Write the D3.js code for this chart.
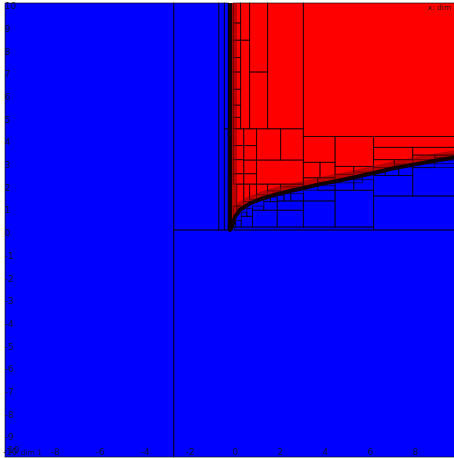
<!DOCTYPE html>
<html>
<head>
<meta charset="utf-8">
<script src="https://cdn.jsdelivr.net/npm/d3@7"></script>
<style>
  body { margin: 0; background: #fff; }
  text { font-family: "DejaVu Sans", sans-serif; }
</style>
</head>
<body>
<div id="chart"><svg width="454" height="458"></svg></div>
<script>
// Tick labels
const xTicks = [-10, -8, -6, -4, -2, 0, 2, 4, 6, 8];
const yTicks = [10, 9, 8, 7, 6, 5, 4, 3, 2, 1, 0, -1, -2, -3, -4, -5, -6, -7, -8, -9, -10];

// Boundary between the red and blue regions
const boundaryX = [0, 0.08, 0.22, 0.44, 0.89, 1.48, 2.08, 2.67, 3.23, 4.0, 4.64, 5.48, 6.34, 7.26, 8.08, 9.04, 10];
const boundaryY = [0, 0.12, 0.58, 0.88, 1.17, 1.4, 1.58, 1.72, 1.84, 2.02, 2.14, 2.31, 2.5, 2.72, 2.87, 3.04, 3.2];

// Subdivision cells [x0, x1, y0, y1]
const blueCells = [
  [-10, -2.5, -10, 10], [-2.5, 10, -10, 0],
  [-2.5, -0.5, 0, 10], [-0.5, -0.25, 0, 10],
  [-0.25, -0.08, 0, 4.46], [-0.25, -0.08, 4.46, 10],
  [-0.08, 0, 2.02, 4.46], [-0.08, 0, 0, 2.02],
  [6.38, 10, 0, 1.5], [6.38, 8.12, 1.5, 2.4], [8.12, 10, 1.5, 2.75],
  [8.12, 9.1, 2.75, 2.92], [9.1, 10, 2.92, 3.08],
  [4.67, 6.38, 0.13, 1.75], [4.67, 5.5, 1.75, 2.08], [5.5, 6.38, 1.75, 2.22],
  [3.26, 4.67, 0.13, 1.28], [3.26, 4.67, 1.28, 1.75], [3.9, 4.67, 1.75, 1.95],
  [2.1, 3.26, 0.13, 0.87], [2.1, 3.26, 0.87, 1.28], [2.7, 3.26, 1.28, 1.6],
  [1.0, 2.1, 0.13, 0.87], [1.5, 2.1, 0.87, 1.25], [1.0, 1.5, 0.87, 1.05],
  [0.5, 1.0, 0.13, 0.6], [0.5, 0.75, 0.6, 0.78], [0.75, 1.0, 0.6, 0.95],
  [0.25, 0.5, 0.13, 0.42], [0.12, 0.25, 0.13, 0.3],
  [0.2, 6.38, 0, 0.13],
  [1.5, 1.8, 1.25, 1.38], [1.8, 2.1, 1.25, 1.45], [2.1, 2.4, 1.28, 1.52], [2.4, 2.7, 1.28, 1.6],
  [5.5, 5.9, 2.08, 2.3], [6.38, 6.9, 2.4, 2.55], [6.9, 7.5, 2.4, 2.68], [7.5, 8.12, 2.4, 2.78]
];

const redCells = [
  [0.15, 0.47, 9.12, 10], [0.15, 0.47, 8.36, 9.12], [0.15, 0.47, 7.6, 8.36],
  [0.15, 0.47, 6.96, 7.6], [0.15, 0.47, 6.2, 6.96], [0.15, 0.47, 5.5, 6.2],
  [0.15, 0.47, 4.96, 5.5], [0.15, 0.47, 4.46, 4.96],
  [0.47, 0.87, 8.36, 10], [0.47, 0.87, 4.46, 8.36],
  [0.87, 1.67, 6.96, 10], [0.87, 1.67, 4.46, 6.96],
  [1.67, 3.26, 4.46, 10], [3.26, 10, 4.12, 10],
  [0.15, 0.61, 3.72, 4.46], [0.15, 0.61, 3.1, 3.72], [0.15, 0.61, 2.48, 3.1], [0.15, 0.61, 2.02, 2.48],
  [0.61, 1.18, 3.72, 4.46], [0.61, 1.18, 3.08, 3.72], [0.61, 1.18, 2.48, 3.08], [0.61, 1.18, 2.02, 2.48],
  [1.18, 2.25, 3.08, 4.46], [2.25, 3.26, 3.08, 4.46], [1.18, 3.26, 2.02, 3.08],
  [3.26, 4.67, 2.98, 4.12], [4.67, 6.38, 2.8, 4.12],
  [3.26, 4.0, 2.3, 2.98], [4.0, 4.67, 2.3, 2.98], [4.67, 5.5, 2.45, 2.8], [5.5, 6.38, 2.55, 2.8],
  [6.38, 10, 3.64, 4.12], [6.38, 8.12, 3.1, 3.64], [8.12, 10, 3.3, 3.64],
  [6.38, 7.3, 2.75, 3.1], [7.3, 8.12, 2.9, 3.1], [8.12, 9.1, 3.1, 3.3], [9.1, 10, 3.2, 3.3],
  [0.3, 0.61, 1.06, 2.02], [0.61, 0.87, 1.25, 2.02], [0.87, 1.18, 1.35, 2.02],
  [1.18, 1.67, 1.55, 2.02], [1.67, 2.25, 1.72, 2.02], [2.25, 3.26, 1.9, 2.02],
  [0.15, 0.3, 0.65, 1.06], [0.3, 0.47, 0.92, 1.06], [3.26, 3.9, 1.95, 2.3], [3.9, 4.67, 2.1, 2.3]
];

let svg = d3.select("div#chart svg"),
  width = +svg.attr("width"),
  height = +svg.attr("height");

let x = d3.scaleLinear().domain([-10, 10]).range([5, 455]);
let y = d3.scaleLinear().domain([-10, 10]).range([457, 3]);

let g = svg.append("g");

// Blue background over the whole domain
g.append("rect")
  .attr("x", x(-10))
  .attr("y", y(10))
  .attr("width", x(10) - x(-10))
  .attr("height", y(-10) - y(10))
  .attr("fill", "#0000ff");

// Red region above the boundary
let points = boundaryX.map((d, i) => ({ x: d, y: boundaryY[i] }));
let area = d3.area()
  .x(d => x(d.x))
  .y0(d => y(d.y))
  .y1(y(10));

svg.append("defs")
  .append("clipPath")
  .attr("id", "redclip")
  .append("path")
  .datum(points)
  .attr("d", area);

g.append("path")
  .datum(points)
  .attr("d", area)
  .attr("fill", "#ff0000");

// Cell outlines
let cells = blueCells.concat(redCells);
g.append("g")
  .attr("class", "cells")
  .selectAll("rect")
  .data(cells)
  .enter()
  .append("rect")
    .attr("x", d => x(d[0]))
    .attr("y", d => y(d[3]))
    .attr("width", d => x(d[1]) - x(d[0]))
    .attr("height", d => y(d[2]) - y(d[3]))
    .attr("fill", "none")
    .attr("stroke", "#000")
    .attr("stroke-opacity", 0.6)
    .attr("stroke-width", 1);

// Dense boundary band
let edge = [{ x: 0, y: 10 }].concat(points);
let edgeLine = d3.line().x(d => x(d.x)).y(d => y(d.y));

g.append("path")
  .datum(edge)
  .attr("d", edgeLine)
  .attr("clip-path", "url(#redclip)")
  .attr("fill", "none")
  .attr("stroke", "#6a0000")
  .attr("stroke-width", 14)
  .attr("stroke-opacity", 0.45);

g.append("path")
  .datum(edge)
  .attr("d", edgeLine)
  .attr("fill", "none")
  .attr("stroke", "#110000")
  .attr("stroke-width", 4)
  .attr("stroke-linejoin", "round");

// Tick labels
g.append("g")
  .selectAll("text")
  .data(xTicks)
  .enter()
  .append("text")
    .attr("x", d => x(d) + 5.5)
    .attr("y", 455)
    .attr("text-anchor", "middle")
    .style("font-size", 9)
    .style("fill", "#111")
    .style("fill-opacity", 0.85)
    .text(d => d);

g.append("g")
  .selectAll("text")
  .data(yTicks)
  .enter()
  .append("text")
    .attr("x", 5)
    .attr("y", d => Math.min(y(d) + 3, 450))
    .attr("dy", "0.35em")
    .style("font-size", 9)
    .style("fill", "#111")
    .style("fill-opacity", 0.85)
    .text(d => d);

// Axis names
g.append("text")
  .attr("x", 21)
  .attr("y", 455)
  .style("font-size", 7.5)
  .style("fill", "#111")
  .style("fill-opacity", 0.85)
  .text("dim 1");

g.append("text")
  .attr("x", 451)
  .attr("y", 10)
  .attr("text-anchor", "end")
  .style("font-size", 7.5)
  .style("fill", "#111")
  .style("fill-opacity", 0.85)
  .text("x: dim");
</script>
</body>
</html>
